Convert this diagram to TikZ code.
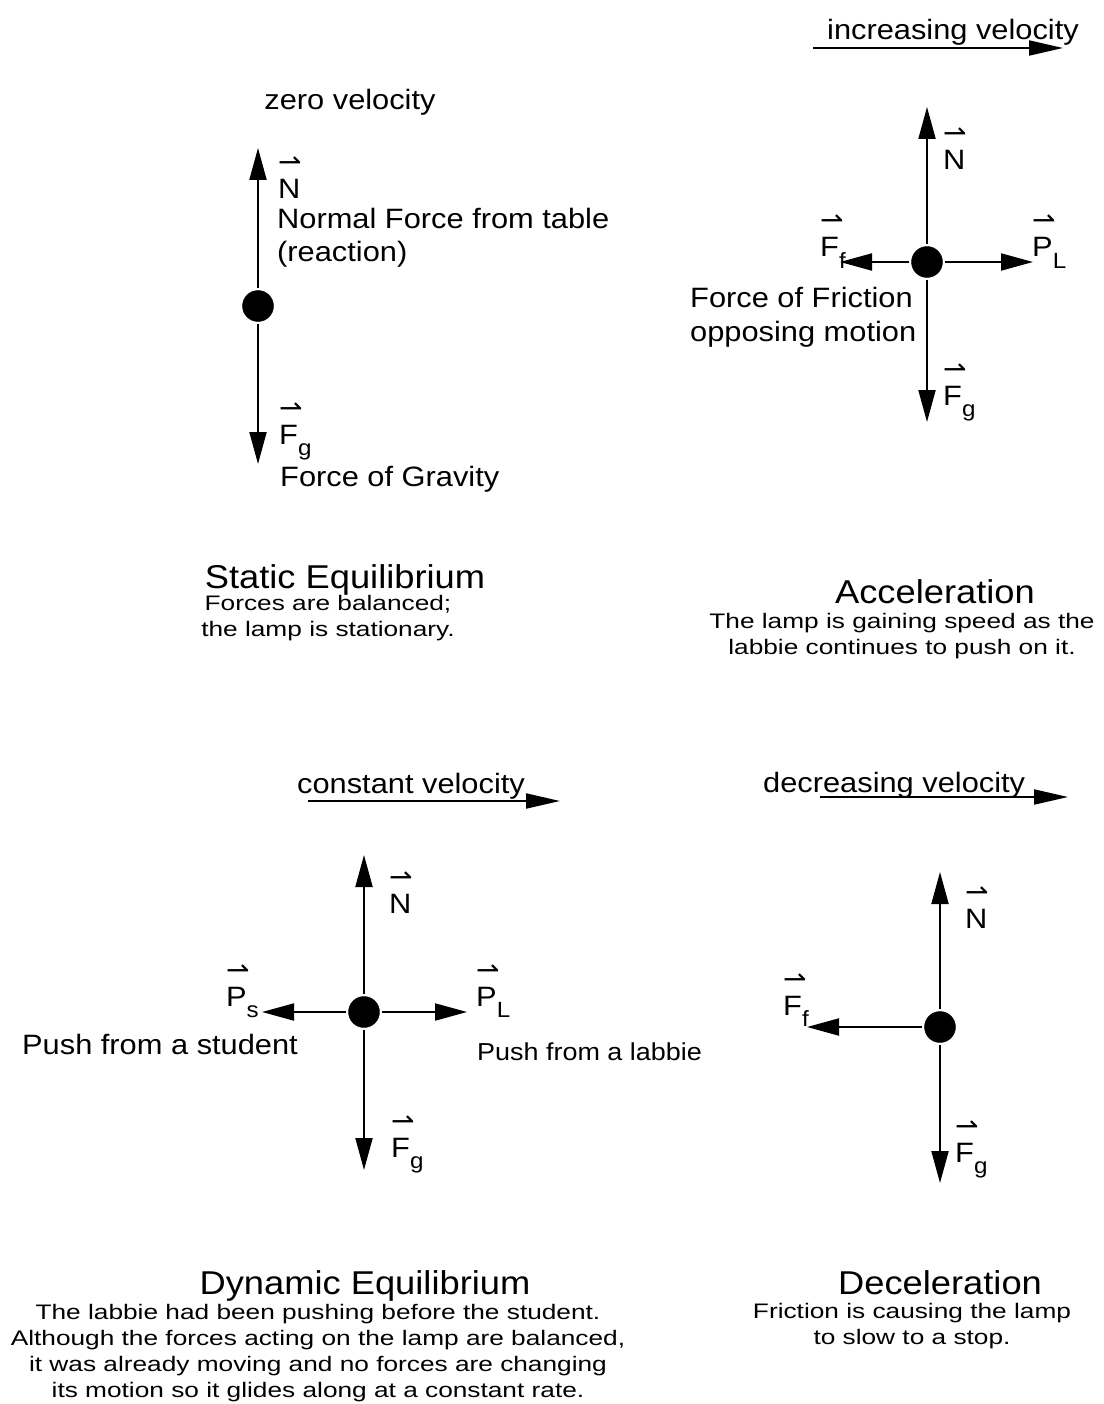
\documentclass[tikz,border=0pt]{standalone}
\usepackage{fontspec}
\setmainfont[FakeStretch=1.1]{Liberation Sans}
\newfontfamily\notefont[FakeStretch=1.25]{Liberation Sans}
\newfontfamily\harpfont{DejaVu Sans}
\usetikzlibrary{arrows.meta}
% vector name with a harpoon above it
\newcommand{\fvec}[2]{\begin{tabular}[b]{@{}l@{}}{\harpfont ⇀}\\[-6pt]#1\raisebox{-0.4em}{\fontsize{22}{22}\selectfont #2}\end{tabular}}
\begin{document}
\begin{tikzpicture}[x=1pt,y=-1pt]
\tikzstyle{lamp}=[draw,fill,shape=circle,inner sep=0pt,minimum size=31pt]
\tikzstyle{force}=[line width=2pt,shorten <=2pt,-{Triangle[length=32pt,width=17pt]}]
\tikzstyle{motion}=[line width=2pt,-{Triangle[length=34pt,width=15pt]}]
\tikzstyle{lbl}=[inner sep=0pt,anchor=base west,align=left,font=\fontsize{28}{33}\selectfont]
\tikzstyle{heading}=[inner sep=0pt,anchor=base,font=\fontsize{33}{36}\selectfont]
\tikzstyle{note}=[inner sep=0pt,anchor=base,align=center,font=\notefont\fontsize{21}{26}\selectfont]
\useasboundingbox (0,0) rectangle (1103,1404);

% static equilibrium
\path (258,306) node[lamp](s){};
\coordinate (sN) at (258,148); \coordinate (sFg) at (258,464);
\draw[force] (s) -- (sN);
\draw[force] (s) -- (sFg);
\path (350,110) node[lbl,anchor=base](sv){zero velocity};
\path (278,199) node[lbl](sNl){\fvec{N}{}};
\path (277,262) node[lbl](sNt){Normal Force from table\\(reaction)};
\path (279,444) node[lbl](sFgl){\fvec{F}{g}};
\path (280,486) node[lbl](sFgt){Force of Gravity};
\path (345,588) node[heading](st){Static Equilibrium};
\path (328,636) node[note](sn){Forces are balanced;\\the lamp is stationary.};

% acceleration
\path (927,262) node[lamp](a){};
\coordinate (aN) at (927,107); \coordinate (aFg) at (927,422);
\coordinate (aFf) at (840,262); \coordinate (aPL) at (1033,262);
\draw[force] (a) -- (aN);
\draw[force] (a) -- (aFg);
\draw[force] (a) -- (aFf);
\draw[force] (a) -- (aPL);
\coordinate (av0) at (813,48); \coordinate (av1) at (1063,48);
\draw[motion] (av0) -- (av1);
\path (953,40) node[lbl,anchor=base](av){increasing velocity};
\path (943,170) node[lbl](aNl){\fvec{N}{}};
\path (820,257) node[lbl](aFfl){\fvec{F}{f}};
\path (1032,257) node[lbl](aPLl){\fvec{P}{L}};
\path (943,405) node[lbl](aFgl){\fvec{F}{g}};
\path (690,341) node[lbl](aFft){Force of Friction\\opposing motion};
\path (935,603) node[heading](at){Acceleration};
\path (902,654) node[note](an){The lamp is gaining speed as the\\labbie continues to push on it.};

% dynamic equilibrium
\path (364,1012) node[lamp](d){};
\coordinate (dN) at (364,855); \coordinate (dFg) at (364,1170);
\coordinate (dPs) at (262,1012); \coordinate (dPL) at (467,1012);
\draw[force] (d) -- (dN);
\draw[force] (d) -- (dFg);
\draw[force] (d) -- (dPs);
\draw[force] (d) -- (dPL);
\coordinate (dv0) at (308,801); \coordinate (dv1) at (560,801);
\draw[motion] (dv0) -- (dv1);
\path (411,793) node[lbl,anchor=base](dv){constant velocity};
\path (389,913) node[lbl](dNl){\fvec{N}{}};
\path (226,1006) node[lbl](dPsl){\fvec{P}{s}};
\path (476,1006) node[lbl](dPLl){\fvec{P}{L}};
\path (391,1157) node[lbl](dFgl){\fvec{F}{g}};
\path (22,1054) node[lbl](dPst){Push from a student};
\path (477,1060) node[lbl,font=\fontsize{24.5}{28}\selectfont](dPLt){Push from a labbie};
\path (365,1294) node[heading](dt){Dynamic Equilibrium};
\path (318,1397) node[note](dn){The labbie had been pushing before the student.\\Although the forces acting on the lamp are balanced,\\it was already moving and no forces are changing\\its motion so it glides along at a constant rate.};

% deceleration
\path (940,1027) node[lamp](c){};
\coordinate (cN) at (940,872); \coordinate (cFg) at (940,1183);
\coordinate (cFf) at (807,1027);
\draw[force] (c) -- (cN);
\draw[force] (c) -- (cFg);
\draw[force] (c) -- (cFf);
\coordinate (cv0) at (820,797); \coordinate (cv1) at (1068,797);
\draw[motion] (cv0) -- (cv1);
\path (763,792) node[lbl](cv){decreasing velocity};
\path (965,928) node[lbl](cNl){\fvec{N}{}};
\path (783,1015) node[lbl](cFfl){\fvec{F}{f}};
\path (955,1162) node[lbl](cFgl){\fvec{F}{g}};
\path (940,1294) node[heading](ct){Deceleration};
\path (912,1344) node[note](cn){Friction is causing the lamp\\to slow to a stop.};
\end{tikzpicture}
\end{document}
